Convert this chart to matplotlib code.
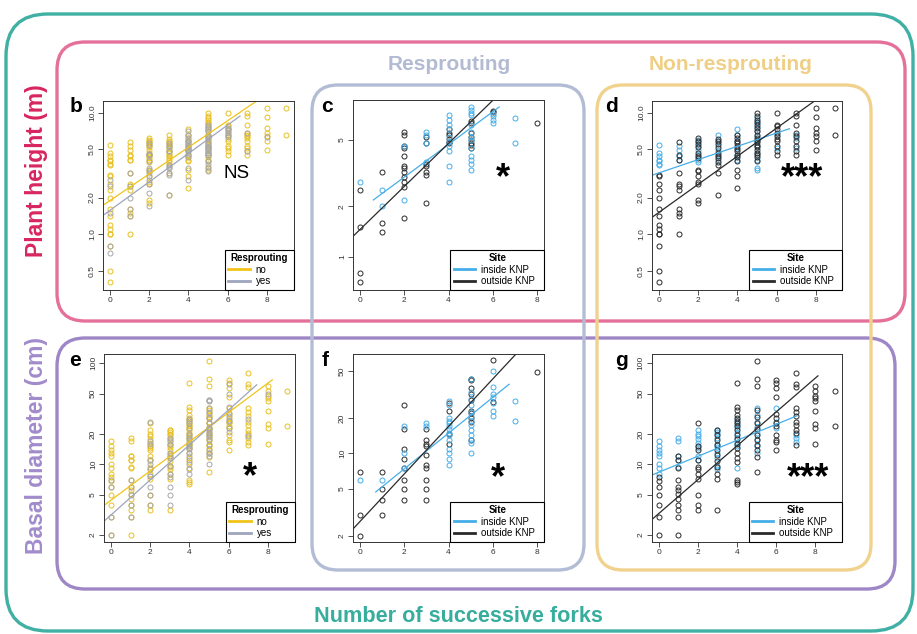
import numpy as np
import matplotlib
matplotlib.use("Agg")
import matplotlib.pyplot as plt
from matplotlib.patches import FancyBboxPatch
from matplotlib.lines import Line2D
from matplotlib.ticker import NullLocator

plt.rcParams['font.family'] = ['Liberation Sans', 'DejaVu Sans']

W, H = 917, 634

# ---------------------------------------------------------------
# Data: one list of values per number of successive forks (0..9)
# ---------------------------------------------------------------
forks = list(range(10))

# plant height (m) - resprouting species
ht_resp_in = [[2.8], [2.5, 2.0], [4.6, 2.2], [5.6, 5.4, 4.8, 3.7],
              [7.1, 6.6, 6.2, 5.8, 5.2, 4.9, 4.6, 4.3, 3.5, 2.8],
              [7.9, 7.6, 7.3, 7.1, 6.2, 5.6, 5.2, 5.0, 4.5, 4.0, 3.8, 3.6, 3.3],
              [7.2, 7.0, 6.6, 6.3], [6.8, 4.8], [], []]
ht_resp_out = [[2.5, 1.5, 0.8, 0.7], [3.2, 1.6, 1.4],
               [5.6, 5.4, 4.6, 4.5, 4.0, 3.5, 3.4, 3.2, 3.0, 2.8, 2.6, 1.7],
               [5.2, 4.8, 3.6, 3.5, 3.2, 3.1, 2.1],
               [5.8, 5.5, 5.4, 5.1, 4.9, 4.8],
               [6.5, 6.3, 5.5, 5.2, 5.0, 4.8, 4.7, 4.5],
               [7.5, 7.4], [], [6.3], []]

# plant height (m) - non-resprouting species
ht_nonresp_in = [[5.4, 4.7, 4.4, 4.1, 4.0, 3.8, 3.7], [5.3, 4.9, 4.4, 4.1],
                 [6.0, 5.7, 5.3, 4.9, 4.5, 4.1, 3.9], [6.6, 5.7, 5.3, 4.8, 4.5, 4.1],
                 [7.3, 6.6, 5.8, 5.1, 4.5, 4.1],
                 [9.1, 8.3, 7.7, 7.1, 6.4, 5.8, 5.3, 4.7, 4.1, 3.5, 3.4],
                 [6.6, 5.1], [6.6, 6.2, 5.1], [], []]
ht_nonresp_out = [[3.1, 3.0, 2.6, 2.3, 2.0, 1.6, 1.4, 1.2, 1.1, 1.0, 1.0, 0.8, 0.5, 0.4],
                  [5.7, 4.5, 4.1, 3.2, 2.6, 2.5, 2.3, 1.6, 1.5, 1.4, 1.0],
                  [6.2, 5.8, 5.5, 5.2, 4.7, 4.4, 4.2, 3.4, 3.3, 3.0, 2.7, 2.6, 1.9, 1.8],
                  [6.1, 5.8, 5.5, 5.1, 4.7, 4.4, 4.2, 3.9, 3.7, 3.2, 2.1],
                  [6.5, 6.2, 5.8, 5.6, 5.3, 5.0, 4.8, 4.5, 4.3, 4.0, 3.4, 3.0, 2.4],
                  [9.9, 9.4, 8.8, 8.4, 7.9, 7.5, 7.1, 6.6, 6.2, 6.0, 5.7, 5.4, 5.2, 4.9, 4.7, 4.5, 4.3, 4.0],
                  [10.0, 8.0, 7.8, 7.4, 6.8, 6.4, 6.1, 5.8, 5.3, 4.8, 4.5],
                  [10.0, 9.4, 8.0, 6.8, 6.4, 5.8, 5.3, 4.8, 4.5],
                  [11.0, 9.3, 7.5, 6.8, 6.4, 5.8, 4.9], [11.0, 6.6]]

# basal diameter (cm) - resprouting species
bd_resp_in = [[6.0], [6.0], [17, 10, 7.6], [18, 17],
              [28, 25.7, 20, 19, 18, 17, 16, 15, 14.3, 13, 11, 10, 9, 8],
              [43, 33, 29, 25.6, 22.6, 21, 19, 17.4, 15.8, 14.3, 13, 12.2, 10],
              [50, 37, 32, 30, 26.6, 23, 21], [28, 19], [], []]
bd_resp_out = [[7.0, 3.0, 2.0], [7.0, 5.0, 4.0, 3.0],
               [26, 16, 11, 9, 7.6, 6, 5, 4],
               [16, 13, 12, 11.5, 9.7, 8, 7.5, 6, 5, 4],
               [26.6, 22.8, 14.5, 12],
               [43, 42, 36, 32, 28.4, 23, 22, 20, 18.6, 13],
               [62, 27.5], [], [49], []]

# basal diameter (cm) - non-resprouting species
bd_nonresp_in = [[17, 15, 14, 13, 12, 10, 9.1, 8.1], [18, 17, 12, 11, 9.5],
                 [22, 20, 19, 17.7, 16.2, 15, 14.4, 12, 11],
                 [22, 21, 20, 18.4, 16, 14.8, 13, 11.5, 9.6, 8.9],
                 [28, 24.5, 22.7, 20.3, 18, 16.4, 15, 9.1],
                 [35.8, 30.8, 26.4, 23.2, 20.3, 17.7, 15, 12.9],
                 [35.8, 26.4, 22.7], [19.5, 18, 16.8], [], []]
bd_nonresp_out = [[7.5, 6.9, 6.0, 5.0, 4.0, 3.0, 2.0],
                  [12, 11, 9.1, 7, 6, 5.6, 5.1, 4.5, 4.0, 3.5, 3.0, 2.0],
                  [25.5, 15, 14, 11, 9.5, 8.9, 8.1, 7.1, 5.0, 4.0, 3.5],
                  [22, 19.5, 17.4, 15.5, 14, 12.4, 10.9, 9.5, 8.1, 7.1, 3.5],
                  [63, 37, 34.5, 30.8, 28.6, 26.9, 25.5, 24, 22, 19.5, 17.7, 16, 14.4,
                   12.9, 11.5, 10.6, 7, 6.7, 6.4],
                  [106, 69, 60, 34.5, 29.6, 25.8, 22.2, 19.5, 17.4, 15.5, 14, 11.9, 8.4],
                  [68, 64, 56.6, 46, 31.5, 29, 25.8, 24, 19.5, 17.3, 16.5, 14],
                  [79, 62, 57.7, 35.8, 33, 30.1, 26.4, 24.5, 22, 20.3, 15.5],
                  [58.8, 52.5, 47.5, 45, 42.7, 33.9, 25.1, 22.7, 15.9],
                  [52.5, 24]]

# fitted lines: log10(y) = a + b * forks, drawn from x0 to x1
fit_b_no = (0.277, 0.1096, -1.0, 9.0)
fit_b_yes = (0.197, 0.117, -1.0, 6.63)
fit_c_in = (0.281, 0.098, 0.6, 6.29)
fit_c_out = (0.163, 0.129, -1.0, 8.0)
fit_d_in = (0.505, 0.0547, -1.0, 6.65)
fit_d_out = (0.18, 0.1156, -1.0, 9.0)
fit_e_no = (0.646, 0.1445, -1.0, 8.23)
fit_e_yes = (0.5, 0.173, -1.0, 7.43)
fit_f_in = (0.566, 0.1516, 0.71, 6.74)
fit_f_out = (0.423, 0.2016, -1.0, 8.0)
fit_g_in = (0.921, 0.079, -1.0, 7.06)
fit_g_out = (0.512, 0.1675, -1.0, 8.13)

ht_ticks = [0.5, 1.0, 2.0, 5.0, 10.0]
ht_labels = ['0.5', '1.0', '2.0', '5.0', '10.0']
ht_resp_ticks = [1, 2, 5]
bd_ticks = [2, 5, 10, 20, 50, 100]
bd_resp_ticks = [2, 5, 10, 20, 50]

# colours
YEL, YEL_L = '#e8c022', '#f0c419'
GRY, GRY_L = '#a8a8a8', '#9ea5bd'
BLU = '#45aee8'
BLK = '#2a2a2a'


def merge(a, b):
    return [p + q for p, q in zip(a, b)]


def px_axes(fig, l, t, r, b):
    return fig.add_axes([l / W, 1 - b / H, (r - l) / W, (b - t) / H])


def points(ax, vals, col):
    xs = [k for k, ys in zip(forks, vals) for _ in ys]
    ys = [v for col_vals in vals for v in col_vals]
    ax.plot(xs, ys, 'o', ls='none', mfc='none', mec=col, ms=3.6, mew=0.7)


def fit_line(ax, fit, col):
    a, b, x0, x1 = fit
    xs = np.array([x0, x1])
    ax.plot(xs, 10 ** (a + b * xs), color=col, lw=0.9)


def setup(ax, xmax, ylim, yticks, ylabels):
    ax.set_yscale('log')
    ax.set_xlim(-0.04 * xmax, 1.04 * xmax)
    ax.set_ylim(*ylim)
    ax.set_xticks([0, 2, 4, 6, 8])
    ax.set_yticks(yticks, labels=ylabels)
    ax.yaxis.set_minor_locator(NullLocator())
    ax.tick_params(length=3.5, width=0.6, labelsize=6, colors='#333333', pad=2)
    ax.tick_params(axis='y', labelrotation=90, pad=1.5)
    for lab in ax.get_yticklabels():
        lab.set_va('center')
    for s in ax.spines.values():
        s.set_linewidth(0.7)
        s.set_color('#333333')


def legend(ax, title, labels, cols, width):
    handles = [Line2D([], [], color=c, lw=2) for c in cols]
    leg = ax.legend(handles, labels, title=title, loc='lower right',
                    bbox_to_anchor=(1 - width, 0, width, 0.3), mode='expand',
                    borderaxespad=0, fontsize=7,
                    title_fontproperties={'weight': 'bold', 'size': 7},
                    fancybox=False, edgecolor='black', framealpha=1,
                    handlelength=2.2, handletextpad=0.6, labelspacing=0.15,
                    borderpad=0.35)
    leg.get_frame().set_linewidth(0.8)


fig = plt.figure(figsize=(W / 100, H / 100), dpi=100)
fig.patch.set_facecolor('white')

# panel b: height, resprouting yes / no
ax = px_axes(fig, 103, 101, 293.5, 289.5)
setup(ax, 9, (0.35, 12.5), ht_ticks, ht_labels)
points(ax, merge(ht_nonresp_in, ht_nonresp_out), YEL)
points(ax, merge(ht_resp_in, ht_resp_out), GRY)
fit_line(ax, fit_b_no, YEL_L)
fit_line(ax, fit_b_yes, GRY_L)
legend(ax, 'Resprouting', ['no', 'yes'], [YEL_L, GRY_L], 0.36)

# panel c: height, resprouting, by site
ax = px_axes(fig, 353, 100, 544, 289.5)
setup(ax, 8, (0.635, 8.7), ht_resp_ticks, [str(t) for t in ht_resp_ticks])
points(ax, ht_resp_out, BLK)
points(ax, ht_resp_in, BLU)
fit_line(ax, fit_c_in, BLU)
fit_line(ax, fit_c_out, BLK)
legend(ax, 'Site', ['inside KNP', 'outside KNP'], [BLU, BLK], 0.49)

# panel d: height, non-resprouting, by site
ax = px_axes(fig, 652, 101, 842.5, 289.5)
setup(ax, 9, (0.35, 12.5), ht_ticks, ht_labels)
points(ax, ht_nonresp_in, BLU)
points(ax, ht_nonresp_out, BLK)
fit_line(ax, fit_d_in, BLU)
fit_line(ax, fit_d_out, BLK)
legend(ax, 'Site', ['inside KNP', 'outside KNP'], [BLU, BLK], 0.49)

# panel e: basal diameter, resprouting yes / no
ax = px_axes(fig, 104, 354, 294.5, 541.7)
setup(ax, 9, (1.72, 123), bd_ticks, [str(t) for t in bd_ticks])
points(ax, merge(bd_nonresp_in, bd_nonresp_out), YEL)
points(ax, merge(bd_resp_in, bd_resp_out), GRY)
fit_line(ax, fit_e_no, YEL_L)
fit_line(ax, fit_e_yes, GRY_L)
legend(ax, 'Resprouting', ['no', 'yes'], [YEL_L, GRY_L], 0.36)

# panel f: basal diameter, resprouting, by site
ax = px_axes(fig, 353, 354, 544, 541.7)
setup(ax, 8, (1.78, 70), bd_resp_ticks, [str(t) for t in bd_resp_ticks])
points(ax, bd_resp_out, BLK)
points(ax, bd_resp_in, BLU)
fit_line(ax, fit_f_in, BLU)
fit_line(ax, fit_f_out, BLK)
legend(ax, 'Site', ['inside KNP', 'outside KNP'], [BLU, BLK], 0.49)

# panel g: basal diameter, non-resprouting, by site
ax = px_axes(fig, 651.5, 354, 842, 541.7)
setup(ax, 9, (1.72, 123), bd_ticks, [str(t) for t in bd_ticks])
points(ax, bd_nonresp_in, BLU)
points(ax, bd_nonresp_out, BLK)
fit_line(ax, fit_g_in, BLU)
fit_line(ax, fit_g_out, BLK)
legend(ax, 'Site', ['inside KNP', 'outside KNP'], [BLU, BLK], 0.49)

# overlay in pixel units for the grouping frames and labels
ov = fig.add_axes([0, 0, 1, 1], zorder=10)
ov.set_xlim(0, W)
ov.set_ylim(H, 0)
ov.axis('off')
ov.patch.set_alpha(0)


def frame(l, t, r, b, col, rad):
    ov.add_patch(FancyBboxPatch((l, t), r - l, b - t,
                                boxstyle=f"round,pad=0,rounding_size={rad}",
                                fill=False, ec=col, lw=2.4))


frame(6, 14, 913, 631, '#3fb0a3', 42)
frame(57, 42, 905, 321, '#e5719b', 28)
frame(57, 338, 895, 589, '#9e87c6', 28)
frame(312, 85, 584, 570, '#b3bcd5', 26)
frame(597, 85, 871, 570, '#f0d28d', 26)

ov.text(449, 64, 'Resprouting', color='#b3bbd3', fontsize=15, fontweight='bold',
        ha='center', va='center')
ov.text(731, 64, 'Non-resprouting', color='#efcf86', fontsize=15, fontweight='bold',
        ha='center', va='center')
ov.text(458, 617, 'Number of successive forks', color='#37ad9e', fontsize=15.6,
        fontweight='bold', ha='center', va='center')
ov.text(37, 171, 'Plant height (m)', color='#d8265f', fontsize=16.5, fontweight='bold',
        rotation=90, ha='center', va='center')
ov.text(37, 445, 'Basal diameter (cm)', color='#a28bcb', fontsize=16.5, fontweight='bold',
        rotation=90, ha='center', va='center')

# panel letters
for lab, x, y in [('b', 76, 106), ('c', 327, 106), ('d', 612, 106),
                  ('e', 75, 361), ('f', 325, 361), ('g', 621, 361)]:
    ov.text(x, y, lab, fontsize=15, fontweight='bold', ha='center', va='center')

# significance of the site / resprouting effect
ov.text(237, 173, 'NS', fontsize=13.5, ha='center', va='center')
for lab, x, y in [('*', 503, 173), ('***', 802, 173),
                  ('*', 250, 472), ('*', 498, 473), ('***', 808, 473)]:
    ov.text(x, y + 6, lab, fontsize=26, fontweight='bold', ha='center', va='center')

fig.savefig('out.png', dpi=100)
